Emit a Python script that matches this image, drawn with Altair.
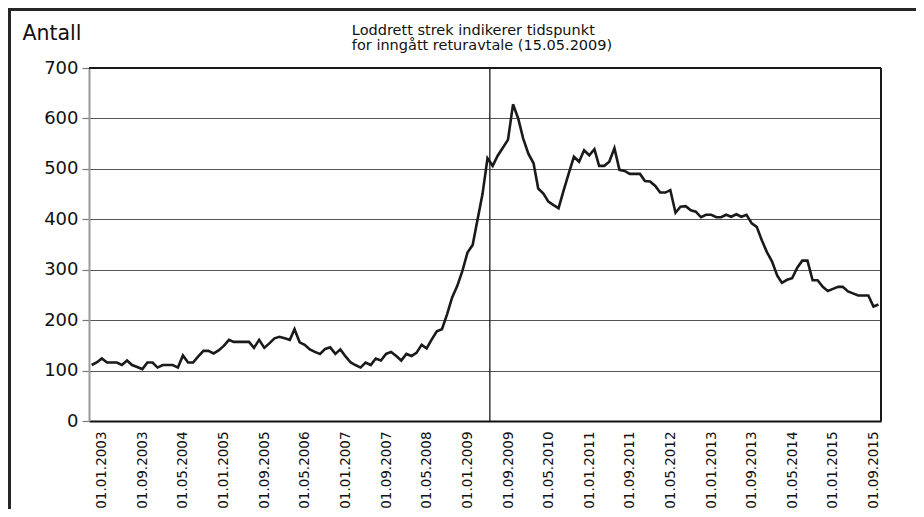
import altair as alt
import pandas as pd

# ---- data ----
START_MONTH = "2002-11-01"   # first monthly observation (first point sits two slots before the 01.01.2003 label)
antall = [
    111, 116, 124, 116, 116, 116, 111, 120, 111, 107,
    103, 116, 116, 106, 111, 111, 111, 106, 130, 116,
    116, 128, 139, 139, 134, 140, 149, 161, 157, 157,
    157, 157, 145, 161, 145, 154, 164, 167, 164, 161,
    182, 156, 151, 142, 137, 133, 143, 146, 133, 142,
    128, 116, 111, 106, 116, 111, 124, 120, 133, 137,
    129, 120, 133, 129, 135, 151, 144, 162, 178, 182,
    212, 245, 268, 297, 334, 349, 397, 450, 521, 506,
    526, 542, 558, 628, 600, 560, 530, 511, 461, 451,
    435, 428, 422, 458, 492, 524, 514, 537, 527, 539,
    506, 506, 514, 541, 498, 496, 490, 490, 490, 476,
    475, 466, 453, 453, 458, 413, 425, 426, 418, 415,
    404, 409, 409, 404, 404, 409, 405, 410, 405, 409,
    392, 385, 358, 335, 316, 288, 274, 280, 283, 304,
    318, 318, 279, 279, 266, 258, 262, 266, 266, 257,
    253, 249, 249, 249, 227, 231,
]
tick_months = [(2003, 1), (2003, 9), (2004, 5), (2005, 1), (2005, 9), (2006, 5),
               (2007, 1), (2007, 9), (2008, 5), (2009, 1), (2009, 9), (2010, 5),
               (2011, 1), (2011, 9), (2012, 5), (2013, 1), (2013, 9), (2014, 5),
               (2015, 1), (2015, 9)]
y_ticks = [0, 100, 200, 300, 400, 500, 600, 700]
agreement_date = "2009-05-15"
note_text = "Loddrett strek indikerer tidspunkt\nfor inngått returavtale (15.05.2009)"
y_title = "Antall"

FONT = "DejaVu Sans"

dates = pd.date_range(START_MONTH, periods=len(antall), freq="MS").strftime("%Y-%m-%d")
df = pd.DataFrame({"dato": list(dates), "antall": antall})
rule_df = pd.DataFrame({"dato": [agreement_date], "tekst": [note_text]})

x_start = alt.DateTime(year=2002, month=10, date=16, utc=True)
x_end = alt.DateTime(year=2015, month=10, date=16, utc=True)
xscale = alt.Scale(type="utc", domain=[x_start, x_end])
yscale = alt.Scale(domain=[0, 700], nice=False, zero=True)

x_axis = alt.Axis(
    values=[alt.DateTime(year=y, month=m, date=1, utc=True) for y, m in tick_months],
    format="%d.%m.%Y", labelAngle=270, labelFont=FONT, labelFontSize=13.5,
    labelColor="#111", labelPadding=10, ticks=False, grid=False,
    domainColor="#111", domainWidth=2, title=None,
)
y_axis = alt.Axis(
    values=y_ticks, title=y_title, titleAngle=0, titleAlign="left",
    titleBaseline="alphabetic", titleX=-67, titleY=-29, titleFont=FONT,
    titleFontSize=20.5, titleFontWeight="normal", titleColor="#111",
    labelFont=FONT, labelFontSize=18, labelColor="#111", labelPadding=4,
    tickSize=7, tickColor="#777", tickWidth=1.2,
    domainColor="#999", domainWidth=2,
    grid=True, gridColor="#555", gridWidth=1.1,
)

line = alt.Chart(df).mark_line(color="#1a1a1a", strokeWidth=2.6).encode(
    x=alt.X("dato:T", scale=xscale, axis=x_axis),
    y=alt.Y("antall:Q", scale=yscale, axis=y_axis),
)

# plot frame: top edge at 700 and right edge at the end of the time domain
top_edge = alt.Chart(df).mark_rule(color="#1a1a1a", strokeWidth=1.5).encode(
    y=alt.Y(datum=700, type="quantitative", scale=yscale)
)
right_edge = alt.Chart(df).mark_rule(color="#1a1a1a", strokeWidth=1.5).encode(
    x=alt.X(datum=x_end, type="temporal", scale=xscale)
)

agreement_rule = alt.Chart(rule_df).mark_rule(color="#1a1a1a", strokeWidth=1.3).encode(
    x=alt.X("dato:T", scale=xscale)
)
note = alt.Chart(rule_df).mark_text(
    align="left", baseline="alphabetic", dx=-138, dy=-33, lineBreak="\n",
    font=FONT, fontSize=14.5, lineHeight=15, color="#111",
).encode(
    x=alt.X("dato:T", scale=xscale),
    y=alt.Y(datum=700, type="quantitative", scale=yscale),
    text="tekst:N",
)

# outer picture frame (decoration only)
frame_left = alt.Chart(rule_df).mark_rule(color="#262626", strokeWidth=3).encode(
    x=alt.value(-79.5), y=alt.value(-58.5), y2=alt.value(445)
)
frame_top = alt.Chart(rule_df).mark_rule(color="#262626", strokeWidth=3).encode(
    x=alt.value(-81), x2=alt.value(830), y=alt.value(-58.5)
)

chart = alt.layer(
    line, top_edge, right_edge, agreement_rule, note, frame_left, frame_top
).properties(
    width=792, height=353,
    autosize=alt.AutoSizeParams(type="none"),
    padding={"left": 81, "top": 60, "right": 35, "bottom": 88},
    background="white",
).configure_view(stroke=None).configure(font=FONT)

chart.save("out.html", embed_options={"renderer": "svg", "actions": False})
